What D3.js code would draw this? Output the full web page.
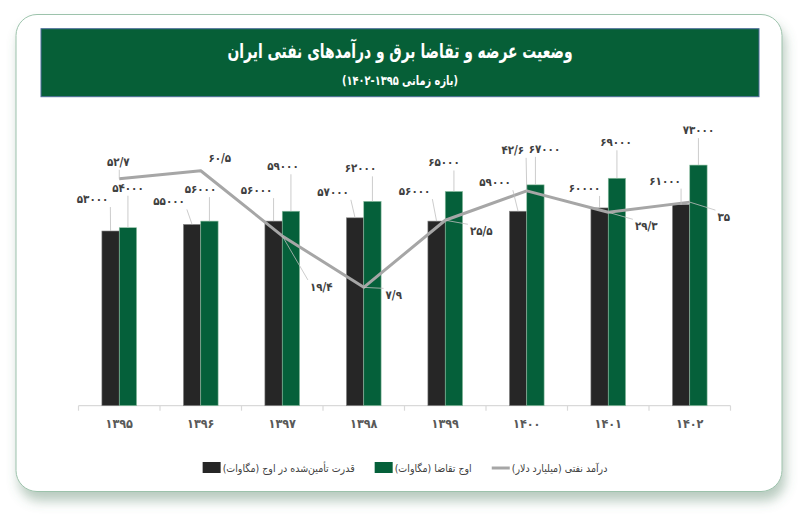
<!DOCTYPE html>
<meta charset="utf-8">
<title>Iran power supply / demand and oil revenue</title>
<style>
body { margin: 0; background: #fff; }
text { font-family: "DejaVu Sans Condensed", "DejaVu Sans", sans-serif; }
.lbl { font-size: 11.5px; font-weight: bold; fill: #404040; }
.leader { stroke: #bfbfbf; stroke-width: 0.8; fill: none; }
</style>
<body>
<script src="https://d3js.org/d3.v7.min.js"></script>
<script>

// data
var years = ["1395", "1396", "1397", "1398", "1399", "1400", "1401", "1402"];
var supply = [53000, 55000, 56000, 57000, 56000, 59000, 60000, 61000];   // قدرت تأمین‌شده در اوج
var demand = [54000, 56000, 59000, 62000, 65000, 67000, 69000, 73000];   // اوج تقاضا
var oilRevenue = [52.7, 60.5, 19.4, 7.9, 25.5, 42.6, 29.3, 35];          // درآمد نفتی
var seriesNames = ["قدرت تأمین‌شده در اوج (مگاوات)", "اوج تقاضا (مگاوات)", "درآمد نفتی (میلیارد دلار)"];

// label nudges (dx, dy) from the data point, as dragged in the original chart
var supplyNudge = [[-18,-32],[-23,-23],[-17,-31],[-22,-26],[-22,-30],[-23,-29],[-15,-20],[-16,-24]];
var demandNudge = [[0,-40],[-9,-32],[-8,-45],[-12,-33],[-10,-29],[9,-36],[-1,-36],[0,-35]];
var oilNudge = [[-1,-17],[19,-13],[39,51],[30,8],[36,11],[-14,-41],[38,14],[34,15]];

var W = 800, H = 527;
var margin = {left: 78.5, right: 69.5, top: 142, bottom: 121.3};
var green = "#05603a", dark = "#262626";

function fa(s) {
  return String(s).replace(/[0-9]/g, function(d) { return "۰۱۲۳۴۵۶۷۸۹"[+d]; }).replace(".", "/");
}

var svg = d3.select("body").append("svg")
    .attr("width", W)
    .attr("height", H);

// card shadow
var defs = svg.append("defs");
var f = defs.append("filter").attr("id", "shadow")
    .attr("x", "-10%").attr("y", "-10%").attr("width", "120%").attr("height", "125%");
f.append("feDropShadow")
    .attr("dx", 3).attr("dy", 9).attr("stdDeviation", 6)
    .attr("flood-color", "#4f7d62").attr("flood-opacity", 0.4);

svg.append("rect")
    .attr("x", 16).attr("y", 14.5)
    .attr("width", 766).attr("height", 477)
    .attr("rx", 21).attr("ry", 21)
    .style("fill", "#fff")
    .style("stroke", "#9cc2ab")
    .style("stroke-width", 1)
    .attr("filter", "url(#shadow)");

// title banner
svg.append("rect")
    .attr("x", 41).attr("y", 28.7)
    .attr("width", 718).attr("height", 68)
    .style("fill", "#065f37")
    .style("stroke", "#4d6d99")
    .style("stroke-width", 1);

svg.append("text")
    .attr("x", 400).attr("y", 58)
    .attr("text-anchor", "middle")
    .attr("direction", "rtl")
    .attr("textLength", 345)
    .attr("lengthAdjust", "spacingAndGlyphs")
    .style("font-size", "20px").style("font-weight", "bold").style("fill", "#fff")
    .text("وضعیت عرضه و تقاضا برق و درآمدهای نفتی ایران");

svg.append("text")
    .attr("x", 400).attr("y", 85)
    .attr("text-anchor", "middle")
    .attr("direction", "rtl")
    .attr("textLength", 116)
    .attr("lengthAdjust", "spacingAndGlyphs")
    .style("font-size", "13px").style("font-weight", "bold").style("fill", "#fff")
    .text("(بازه زمانی " + fa("1395-1402") + ")");

// scales
var x = d3.scaleBand()
    .domain(years)
    .range([margin.left, W - margin.right]);

var y = d3.scaleLinear()
    .domain([0, 80000])
    .range([H - margin.bottom, margin.top]);

var yOil = d3.scaleLog()
    .domain([1, 100])
    .range([H - margin.bottom, margin.top]);

var barW = x.bandwidth() * 0.213;

// x axis
var xAxis = svg.append("g")
    .attr("transform", "translate(0," + (H - margin.bottom) + ")")
    .call(d3.axisBottom(x).tickSize(0).tickFormat(fa));
xAxis.select(".domain").remove();
xAxis.append("line")
    .attr("x1", margin.left).attr("x2", W - margin.right)
    .style("stroke", "#d9d9d9").style("stroke-width", 1.2);
xAxis.selectAll(".bound")
    .data(years.concat(["end"]))
  .enter().append("line")
    .attr("x1", function(d, i) { return margin.left + i * x.step(); })
    .attr("x2", function(d, i) { return margin.left + i * x.step(); })
    .attr("y1", 0).attr("y2", 5)
    .style("stroke", "#d9d9d9").style("stroke-width", 1.2);
xAxis.selectAll(".tick text")
    .attr("dy", 0).attr("y", 22)
    .style("font-size", "12.5px").style("font-weight", "bold").style("fill", "#595959")
    .style("font-family", "\"DejaVu Sans Condensed\", \"DejaVu Sans\", sans-serif");

function cx(i) { return x(years[i]) + x.bandwidth() / 2; }

// bars
var bars = svg.append("g");
bars.selectAll(".supply")
    .data(supply)
  .enter().append("rect")
    .attr("x", function(d, i) { return cx(i) - barW; })
    .attr("y", function(d) { return y(d); })
    .attr("width", barW)
    .attr("height", function(d) { return y(0) - y(d); })
    .style("fill", dark)
    .style("stroke", "#8a8a8a").style("stroke-width", 0.6);

bars.selectAll(".demand")
    .data(demand)
  .enter().append("rect")
    .attr("x", function(d, i) { return cx(i); })
    .attr("y", function(d) { return y(d); })
    .attr("width", barW)
    .attr("height", function(d) { return y(0) - y(d); })
    .style("fill", green)
    .style("stroke", "#8fc0a3").style("stroke-width", 0.6);

// oil revenue line
var line = d3.line()
    .x(function(d, i) { return cx(i); })
    .y(function(d) { return yOil(d); });

svg.append("path")
    .datum(oilRevenue)
    .attr("d", line)
    .style("fill", "none")
    .style("stroke", "#a6a6a6")
    .style("stroke-width", 3)
    .style("stroke-linejoin", "round");

// data labels with leader lines
var labelLayer = svg.append("g");

function addLabels(values, px, py, nudge, fmt) {
  values.forEach(function(v, i) {
    var p = [px(i), py(v)];
    var t = labelLayer.append("text")
        .attr("class", "lbl")
        .attr("x", p[0] + nudge[i][0])
        .attr("y", p[1] + nudge[i][1])
        .attr("dy", "0.35em")
        .attr("text-anchor", "middle")
        .text(fmt(v));
    var b = t.node().getBBox();
    // nearest point of the label box to the data point
    var qx = Math.max(b.x - 2, Math.min(b.x + b.width + 2, p[0]));
    var qy = Math.max(b.y, Math.min(b.y + b.height + 1, p[1]));
    var dist = Math.hypot(qx - p[0], qy - p[1]);
    if (dist > 8) {
      labelLayer.insert("line", "text")
          .attr("class", "leader")
          .attr("x1", qx).attr("y1", qy)
          .attr("x2", p[0]).attr("y2", p[1]);
    }
  });
}

addLabels(supply, function(i) { return cx(i) - barW / 2; }, y, supplyNudge, fa);
addLabels(demand, function(i) { return cx(i) + barW / 2; }, y, demandNudge, fa);
addLabels(oilRevenue, cx, yOil, oilNudge, fa);

// legend (laid out right to left, centred)
var legend = svg.append("g");
var items = [
  {name: seriesNames[2], kind: "line", color: "#a6a6a6"},
  {name: seriesNames[1], kind: "box", color: green},
  {name: seriesNames[0], kind: "box", color: dark}
];
var legendY = 468;
var widths = items.map(function(it) {
  var t = legend.append("text")
      .attr("direction", "rtl")
      .style("font-size", "10.5px").style("fill", "#404040")
      .text(it.name);
  it.node = t;
  return t.node().getComputedTextLength();
});
var symW = 18, gapSym = 2, gapItem = 20;
var total = d3.sum(widths) + items.length * (symW + gapSym) + (items.length - 1) * gapItem;
var right = 405 + total / 2;
items.forEach(function(it, i) {
  it.node
      .attr("x", right)
      .attr("y", legendY)
      .attr("dy", "0.35em")
      .attr("text-anchor", "start");
  var sx = right - widths[i] - gapSym - symW;
  if (it.kind === "line") {
    legend.append("line")
        .attr("x1", sx).attr("x2", sx + symW)
        .attr("y1", legendY).attr("y2", legendY)
        .style("stroke", it.color).style("stroke-width", 3);
  } else {
    legend.append("rect")
        .attr("x", sx).attr("y", legendY - 6)
        .attr("width", symW).attr("height", 11)
        .style("fill", it.color);
  }
  right = sx - gapItem;
});

</script>
</body>
